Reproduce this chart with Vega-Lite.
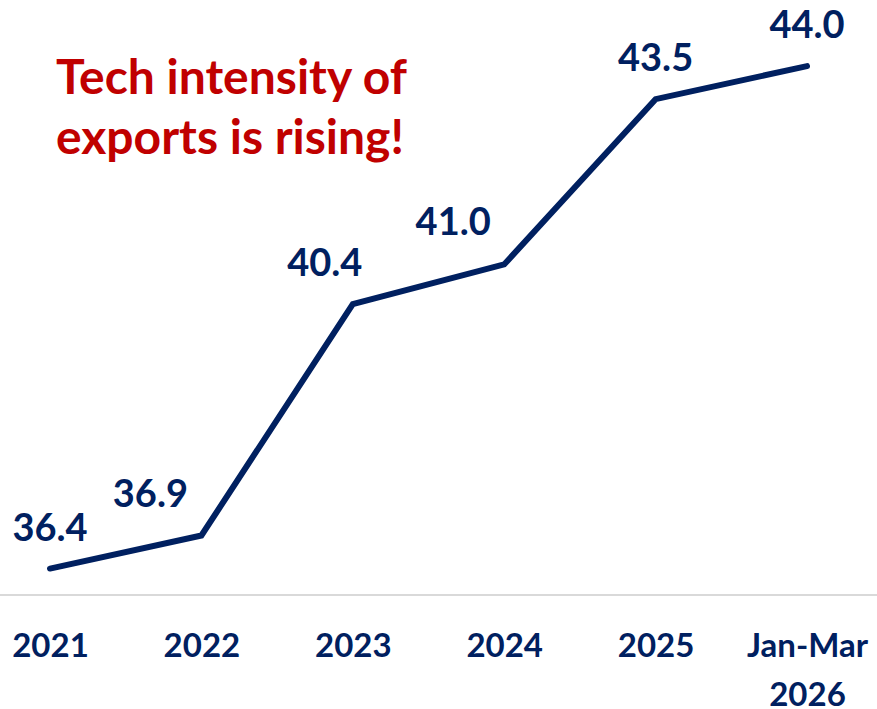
{
  "$schema": "https://vega.github.io/schema/vega-lite/v6.json",
  "width": 877,
  "height": 595,
  "autosize": {"type": "none"},
  "padding": {"left": 0, "top": 0, "right": 0, "bottom": 114},
  "background": "white",
  "config": {"view": {"stroke": null}, "font": "Lato"},
  "title": {
    "text": ["Tech intensity of", "exports is rising!"],
    "anchor": "start",
    "frame": "group",
    "orient": "top",
    "baseline": "top",
    "offset": 0,
    "dx": 56,
    "dy": 164,
    "font": "Lato",
    "fontSize": 48,
    "fontWeight": "bold",
    "color": "#C00000",
    "lineHeight": 60
  },
  "data": {
    "values": [
      {"period": "2021", "value": 36.4},
      {"period": "2022", "value": 36.9},
      {"period": "2023", "value": 40.4},
      {"period": "2024", "value": 41.0},
      {"period": "2025", "value": 43.5},
      {"period": "Jan-Mar 2026", "value": 44.0}
    ]
  },
  "encoding": {
    "x": {
      "field": "period",
      "type": "ordinal",
      "sort": null,
      "scale": {"type": "point", "range": [50, 807], "padding": 0},
      "axis": {
        "title": null,
        "domain": false,
        "ticks": false,
        "grid": false,
        "labelAngle": 0,
        "labelFont": "Lato",
        "labelFontSize": 33,
        "labelFontWeight": "bold",
        "labelColor": "#002060",
        "labelPadding": 35,
        "labelLineHeight": 49,
        "labelBaseline": "top",
        "labelExpr": "split(datum.label, ' ')"
      }
    },
    "y": {
      "field": "value",
      "type": "quantitative",
      "scale": {"domain": [36, 45], "zero": false, "nice": false},
      "axis": null
    }
  },
  "layer": [
    {
      "mark": {"type": "rule", "color": "#d9d9d9", "strokeWidth": 2},
      "encoding": {"x": null, "y": {"datum": 36}}
    },
    {
      "mark": {"type": "line", "color": "#002060", "strokeWidth": 6, "strokeCap": "round", "strokeJoin": "miter"}
    },
    {
      "transform": [{"filter": "indexof(['2021','2025','Jan-Mar 2026'], datum.period) >= 0"}],
      "mark": {"type": "text", "font": "Lato", "fontSize": 38, "fontWeight": "bold", "color": "#002060", "baseline": "alphabetic", "dy": -28},
      "encoding": {"text": {"field": "value", "type": "quantitative", "format": ".1f"}}
    },
    {
      "transform": [{"filter": "indexof(['2022','2024'], datum.period) >= 0"}],
      "mark": {"type": "text", "font": "Lato", "fontSize": 38, "fontWeight": "bold", "color": "#002060", "baseline": "alphabetic", "dy": -29, "dx": -51},
      "encoding": {"text": {"field": "value", "type": "quantitative", "format": ".1f"}}
    },
    {
      "transform": [{"filter": "datum.period === '2023'"}],
      "mark": {"type": "text", "font": "Lato", "fontSize": 38, "fontWeight": "bold", "color": "#002060", "baseline": "alphabetic", "dy": -28, "dx": -28},
      "encoding": {"text": {"field": "value", "type": "quantitative", "format": ".1f"}}
    }
  ]
}
